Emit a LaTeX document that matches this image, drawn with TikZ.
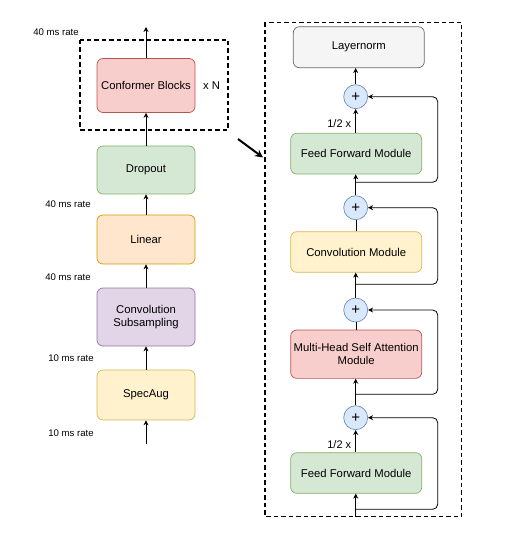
\documentclass[tikz,border=0pt]{standalone}
\usepackage{fontspec}
\setmainfont{Liberation Sans}
\usetikzlibrary{arrows.meta}

\begin{document}
\begin{tikzpicture}[x=1pt, y=-1pt,
    blk/.style={draw, rounded corners=6pt, line width=0.7pt, align=center, inner sep=2pt,
                font=\fontsize{11.3}{13.5}\selectfont},
    plus/.style={circle, draw=PlusLine, fill=PlusFill, line width=0.7pt, minimum size=24pt,
                 inner sep=0pt, font=\fontsize{15}{15}\selectfont},
    arr/.style={-{Stealth[length=5pt, width=5pt]}, line width=0.8pt},
    res/.style={arr, rounded corners=5pt},
    dashbox/.style={line width=1.7pt, dash pattern=on 4.5pt off 3pt},
    rate/.style={font=\fontsize{9.6}{11}\selectfont}]

    % colours of the boxes
    \definecolor{RedFill}{HTML}{F8CECC}    \definecolor{RedLine}{HTML}{B85450}
    \definecolor{GreenFill}{HTML}{D5E8D4}  \definecolor{GreenLine}{HTML}{82B366}
    \definecolor{OrangeFill}{HTML}{FFE6CC} \definecolor{OrangeLine}{HTML}{D79B00}
    \definecolor{PurpleFill}{HTML}{E1D5E7} \definecolor{PurpleLine}{HTML}{9673A6}
    \definecolor{YellowFill}{HTML}{FFF2CC} \definecolor{YellowLine}{HTML}{D6B656}
    \definecolor{PlusFill}{HTML}{DAE8FC}   \definecolor{PlusLine}{HTML}{6C8EBF}
    \definecolor{GrayFill}{HTML}{F5F5F5}   \definecolor{GrayLine}{HTML}{666666}

    \useasboundingbox (0,0) rectangle (512,537);

    % left column
    \node[blk, fill=YellowFill, draw=YellowLine, minimum width=98pt, minimum height=50pt] (spec) at (146,395) {SpecAug};
    \node[blk, fill=PurpleFill, draw=PurpleLine, minimum width=98pt, minimum height=58pt] (subs) at (146,317) {Convolution\\Subsampling};
    \node[blk, fill=OrangeFill, draw=OrangeLine, minimum width=98pt, minimum height=49pt] (lin) at (146,239.5) {Linear};
    \node[blk, fill=GreenFill, draw=GreenLine, minimum width=98pt, minimum height=48pt] (drop) at (146,170) {Dropout};
    \node[blk, fill=RedFill, draw=RedLine, minimum width=98pt, minimum height=54pt] (conf) at (146,85.5) {Conformer Blocks};
    \node[font=\fontsize{11.3}{13.5}\selectfont] (xn) at (211.5,86) {x N};
    \coordinate (in) at (146,444);
    \coordinate (out) at (146,27);

    \draw[arr] (in) -- (spec);
    \draw[arr] (spec) -- (subs);
    \draw[arr] (subs) -- (lin);
    \draw[arr] (lin) -- (drop);
    \draw[arr] (drop) -- (conf);
    \draw[arr] (conf) -- (out);

    \node[rate] (r1) at (71,433) {10 ms rate};
    \node[rate] (r2) at (71,358) {10 ms rate};
    \node[rate] (r3) at (68,277) {40 ms rate};
    \node[rate] (r4) at (68,204) {40 ms rate};
    \node[rate] (r5) at (56,32) {40 ms rate};

    \draw[dashbox] (80,40) rectangle (228,130);

    % pointer to the block
    \coordinate (pa) at (238,139);
    \coordinate (pb) at (263,157.5);
    \draw[-{Stealth[length=8pt, width=8pt]}, line width=2pt] (pa) -- (pb);

    % conformer block
    \draw[dashbox] (265,22.5) rectangle (461.5,516.5);
    \node[blk, fill=GrayFill, draw=GrayLine, minimum width=131pt, minimum height=41pt] (ln) at (358.8,47.2) {Layernorm};
    \node[plus] (p1) at (355.7,96.7) {+};
    \node[blk, fill=GreenFill, draw=GreenLine, minimum width=131pt, minimum height=40.7pt] (ffa) at (356.2,153.7) {Feed Forward Module};
    \node[plus] (p2) at (355.7,207.7) {+};
    \node[blk, fill=YellowFill, draw=YellowLine, minimum width=131pt, minimum height=40.6pt] (cm) at (356.2,252) {Convolution Module};
    \node[plus] (p3) at (355.7,310) {+};
    \node[blk, fill=RedFill, draw=RedLine, minimum width=131pt, minimum height=48.3pt] (mhsa) at (356.2,354.2) {Multi-Head Self Attention\\Module};
    \node[plus] (p4) at (355.7,417.7) {+};
    \node[blk, fill=GreenFill, draw=GreenLine, minimum width=131pt, minimum height=40.6pt] (ffb) at (356.2,473) {Feed Forward Module};
    \node[font=\fontsize{11}{13}\selectfont] (ha) at (339.3,124) {1/2 x};
    \node[font=\fontsize{11}{13}\selectfont] (hb) at (339.3,445) {1/2 x};

    \coordinate (bin) at (355.7,516.5);
    \coordinate (b1) at (355.7,182.3);
    \coordinate (b2) at (355.7,284.3);
    \coordinate (b3) at (355.7,394.3);
    \coordinate (b4) at (355.7,509.3);

    % main path
    \draw[arr] (bin) -- (bin |- ffb.south);
    \draw[arr] (p4.south |- ffb.north) -- (p4);
    \draw[arr] (p4) -- (p4 |- mhsa.south);
    \draw (p3.south |- mhsa.north) -- (p3);
    \draw[arr] (p3) -- (p3 |- cm.south);
    \draw (p2.south |- cm.north) -- (p2);
    \draw[arr] (p2) -- (p2 |- ffa.south);
    \draw[arr] (p1.south |- ffa.north) -- (p1);
    \draw[arr] (p1) -- (p1 |- ln.south);

    % residual connections
    \draw[res] (b4) -- (437.7,509.3) |- (p4.east);
    \draw[res] (b3) -- (437.7,394.3) |- (p3.east);
    \draw[res] (b2) -- (437.7,284.3) |- (p2.east);
    \draw[res] (b1) -- (437.7,182.3) |- (p1.east);

\end{tikzpicture}
\end{document}
